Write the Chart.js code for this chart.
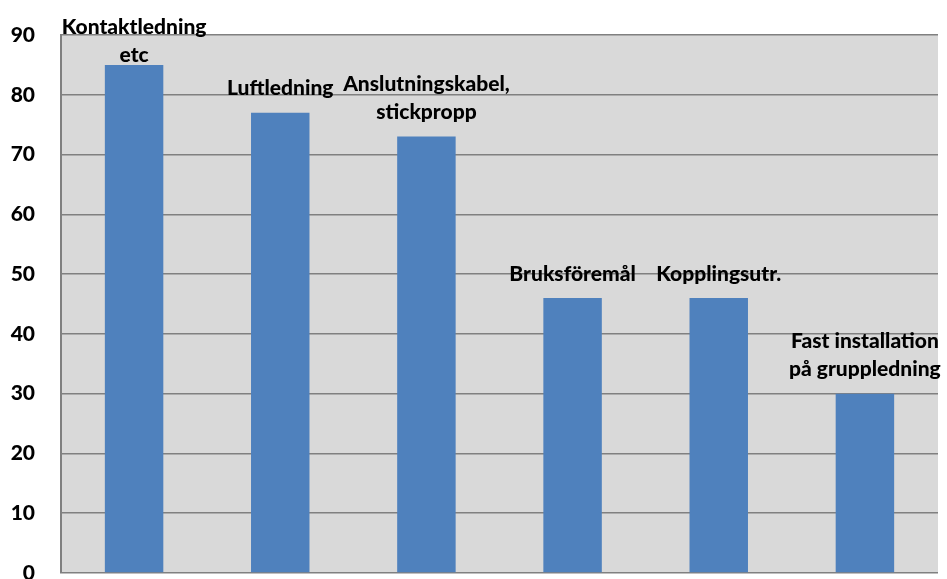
<!DOCTYPE html>
<html>
<head>
<meta charset="utf-8">
<script src="https://cdn.jsdelivr.net/npm/chart.js@4/dist/chart.umd.min.js"></script>
<style>
  html, body { margin: 0; padding: 0; background: #fff; }
  #wrap { width: 947px; height: 579px; }
</style>
</head>
<body>
<div id="wrap"><canvas id="barChart"></canvas></div>
<script>
const categories = [
  ['Kontaktledning', 'etc'],
  ['Luftledning'],
  ['Anslutningskabel,', 'stickpropp'],
  ['Bruksföremål'],
  ['Kopplingsutr.'],
  ['Fast installation', 'på gruppledning']
];
const values = [85, 77, 73, 46, 46, 30];
const yTicks = [0, 10, 20, 30, 40, 50, 60, 70, 80, 90];

const FONT = 'Lato, "Open Sans", sans-serif';

// grey plot background
const plotBg = {
  id: 'plotBg',
  beforeDraw(chart) {
    const { ctx, chartArea: a } = chart;
    ctx.save();
    ctx.fillStyle = '#d9d9d9';
    ctx.fillRect(a.left, a.top, a.right - a.left, a.bottom - a.top);
    ctx.restore();
  }
};

// category names written above each bar
const barNames = {
  id: 'barNames',
  afterDatasetsDraw(chart) {
    const { ctx } = chart;
    const meta = chart.getDatasetMeta(0);
    const lineH = 28;
    ctx.save();
    ctx.font = '900 21px ' + FONT;
    ctx.fillStyle = '#000';
    ctx.textAlign = 'center';
    ctx.textBaseline = 'middle';
    meta.data.forEach((bar, i) => {
      const lines = categories[i];
      let last = bar.y - 24;
      let first = last - lineH * (lines.length - 1);
      if (first < 27) { last += 27 - first; first = 27; }
      lines.forEach((t, j) => ctx.fillText(t, bar.x, first + j * lineH));
    });
    ctx.restore();
  }
};

new Chart(document.getElementById('barChart'), {
  type: 'bar',
  data: {
    labels: categories.map(c => c.join(' ')),
    datasets: [{
      data: values,
      backgroundColor: '#4f81bd',
      borderWidth: 0,
      categoryPercentage: 1,
      barPercentage: 0.4
    }]
  },
  options: {
    responsive: true,
    maintainAspectRatio: false,
    animation: false,
    layout: { padding: { top: 35, bottom: 6, right: 9, left: 0 } },
    plugins: {
      legend: { display: false },
      tooltip: { enabled: false }
    },
    scales: {
      x: { display: false },
      y: {
        min: 0,
        max: 90,
        afterBuildTicks(scale) { scale.ticks = yTicks.map(v => ({ value: v })); },
        afterFit(scale) {
          scale.width = 61;
          scale.paddingTop = 0;
          scale.paddingBottom = 0;
        },
        grid: { color: '#808080', lineWidth: 1.5, drawTicks: false },
        border: { color: '#808080', width: 2 },
        ticks: {
          padding: 26,
          color: '#000',
          font: { family: FONT, size: 21, weight: '900' }
        }
      }
    }
  },
  plugins: [plotBg, barNames]
});
</script>
</body>
</html>
